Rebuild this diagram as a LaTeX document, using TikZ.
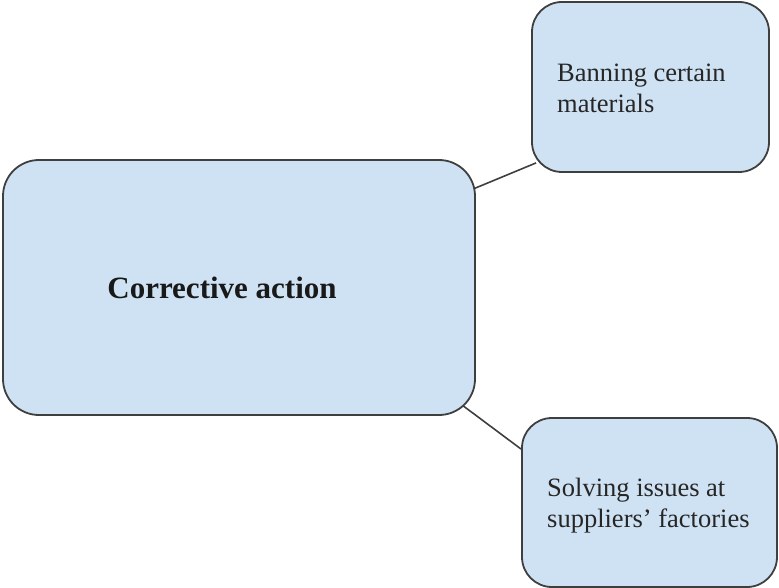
\documentclass[tikz,border=0pt]{standalone}
\usepackage{fontspec}
\setmainfont{Liberation Serif}
\usetikzlibrary{calc,backgrounds}
\definecolor{boxfill}{HTML}{CFE2F3}
\definecolor{boxline}{HTML}{3F3F3F}
\begin{document}
\begin{tikzpicture}[x=1pt,y=-1pt,
  card/.style={draw=boxline,fill=boxfill,line width=1.8pt,rounded corners=36pt,inner sep=0pt},
  cardtext/.style={inner sep=0pt,anchor=west,align=left,
    font=\fontsize{26.5}{31}\selectfont,text=black!85},
  link/.style={draw=boxline,line width=1.6pt}]
\useasboundingbox (0,0) rectangle (779,588);
% main topic
\node[card,minimum width=472pt,minimum height=255pt] (main) at (239,287.5) {};
\node[font=\bfseries\fontsize{31}{36}\selectfont,text=black!90] (mainlabel) at (222,288) {Corrective action};
% branches
\node[card,rounded corners=30pt,minimum width=237pt,minimum height=170pt] (ban) at (650.5,87) {};
\node[cardtext] (bantext) at (557,88) {Banning certain\\materials};
\node[card,rounded corners=30pt,minimum width=255pt,minimum height=169pt] (solve) at (649.5,502.5) {};
\node[cardtext] (solvetext) at (547,506) {Solving issues at\\suppliers’ factories};
% connectors
\begin{scope}[on background layer]
\draw[link] ($(main.north east)+(-3,30)$) -- ($(ban.south west)+(5,-10)$);
\draw[link] ($(main.south east)+(-14,-11)$) -- ($(solve.north west)+(0,32)$);
\end{scope}
\end{tikzpicture}
\end{document}
